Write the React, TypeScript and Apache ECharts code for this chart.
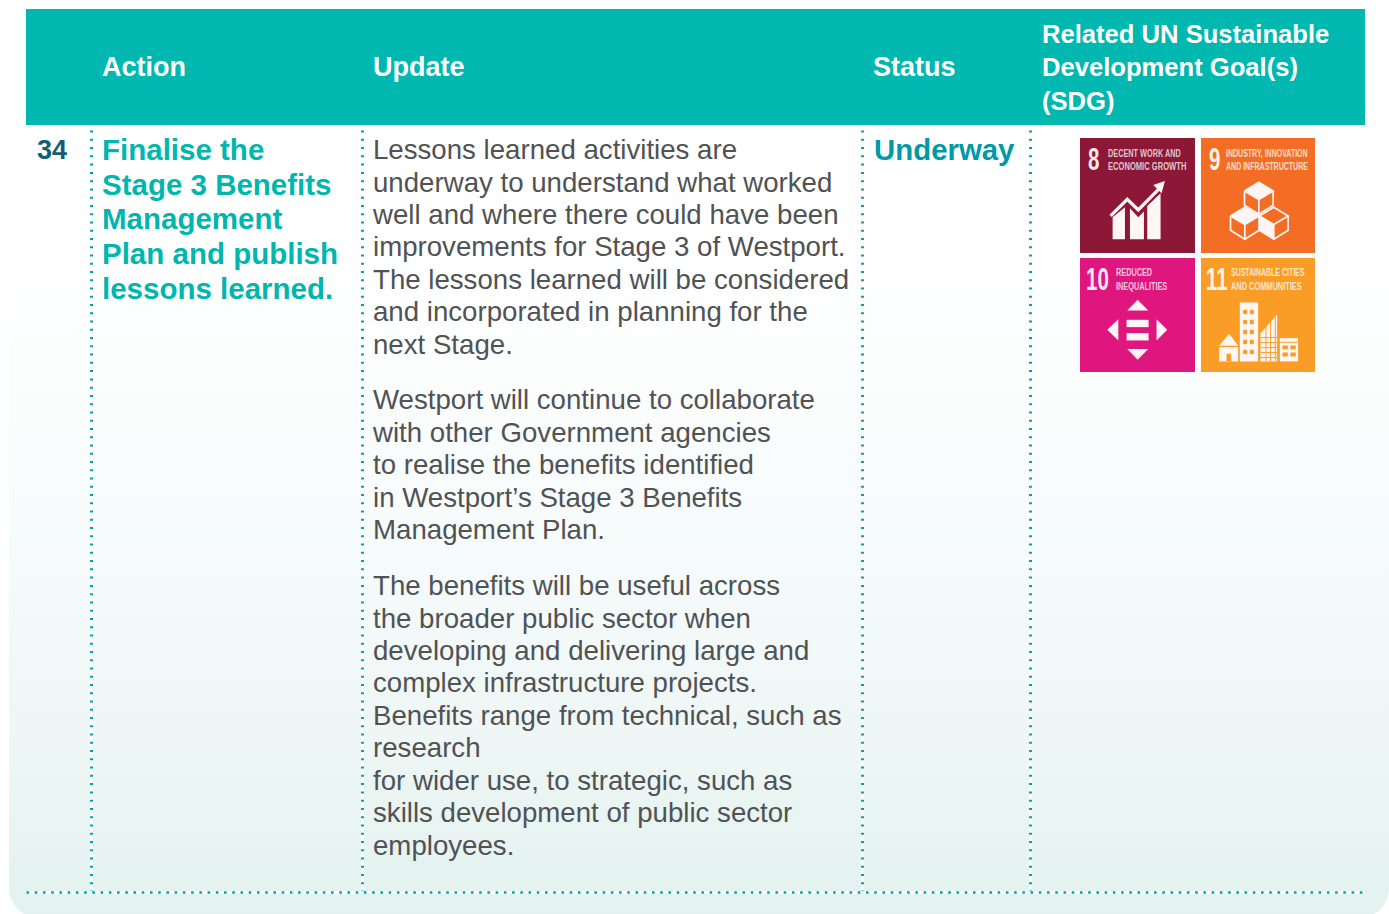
import React, { useEffect, useRef } from "react";
import * as echarts from "echarts";

const headers = ["Action", "Update", "Status"];
const sdgHeader = ["Related UN Sustainable", "Development Goal(s)", "(SDG)"];
const rowNumber = "34";
const actionLines = ["Finalise the", "Stage 3 Benefits", "Management", "Plan and publish", "lessons learned."];
const status = "Underway";
const paragraph1 = [
  "Lessons learned activities are",
  "underway to understand what worked",
  "well and where there could have been",
  "improvements for Stage 3 of Westport.",
  "The lessons learned will be considered",
  "and incorporated in planning for the",
  "next Stage.",
];
const paragraph2 = [
  "Westport will continue to collaborate",
  "with other Government agencies",
  "to realise the benefits identified",
  "in Westport’s Stage 3 Benefits",
  "Management Plan.",
];
const paragraph3 = [
  "The benefits will be useful across",
  "the broader public sector when",
  "developing and delivering large and",
  "complex infrastructure projects.",
  "Benefits range from technical, such as",
  "research",
  "for wider use, to strategic, such as",
  "skills development of public sector",
  "employees.",
];
const columnRules = [91.5, 362.5, 862.5, 1030.5];

const FONT = '"Liberation Sans", Arial, sans-serif';

function txt(text: string, x: number, y: number, size: number, fill: string, weight: any = "normal", extra: any = {}) {
  return {
    type: "text",
    x,
    y,
    silent: true,
    ...extra,
    style: { text, fontFamily: FONT, fontSize: size, fontWeight: weight, fill, textVerticalAlign: "middle", textAlign: "left" },
  };
}

function dotted(x1: number, y1: number, x2: number, y2: number, width: number, dash: number[]) {
  return [
    { type: "line", silent: true, shape: { x1, y1, x2, y2 }, style: { stroke: "rgba(255,255,255,0.85)", lineWidth: 3 } },
    { type: "line", silent: true, shape: { x1, y1, x2, y2 }, style: { stroke: "#00a2b0", lineWidth: width, lineDash: dash } },
  ];
}

function tileText(text: string, x: number, y: number, size: number, weight: any, scaleX: number, op = 0.75) {
  return {
    type: "text",
    x,
    y,
    scaleX,
    silent: true,
    style: { text, fontFamily: FONT, fontSize: size, fontWeight: weight, fill: `rgba(255,255,255,${op})`, textVerticalAlign: "middle", textAlign: "left" },
  };
}

const W = "#fdf6f4";
const rect = (x: number, y: number, width: number, height: number, fill = W) => ({ type: "rect", silent: true, shape: { x, y, width, height }, style: { fill } });
const poly = (points: number[][], fill = W) => ({ type: "polygon", silent: true, shape: { points }, style: { fill } });
const pline = (points: number[][], lineWidth = 5, stroke = W) => ({ type: "polyline", silent: true, shape: { points }, style: { stroke, lineWidth, fill: "none" } });

// Icons are drawn in a coordinate frame 3x the page's, anchored at (1070,130)
function icons() {
  const cube = (tx: number, ty: number) => [
    pline([[tx - 43, ty], [tx, ty - 26], [tx + 43, ty], [tx, ty + 26], [tx - 43, ty]]),
    pline([[tx - 43, ty], [tx - 43, ty + 43], [tx, ty + 70], [tx + 43, ty + 43], [tx + 43, ty]]),
    pline([[tx, ty + 26], [tx, ty + 70]]),
  ];
  const orange = "#f99d26";
  const towerWin: any[] = [];
  for (let r = 0; r < 5; r++) {
    for (let c = 0; c < 2; c++) towerWin.push(rect(520 + c * 20, 540 + r * 30, 12, 13, orange));
  }
  const triGrid: any[] = [];
  for (let r = 0; r < 5; r++) {
    triGrid.push(rect(572, 622 + r * 15, 50, 3, orange));
  }
  for (let c = 0; c < 3; c++) triGrid.push(rect(587 + c * 14, 560, 3, 135, orange));
  return [
    // goal 8
    poly([[128, 262], [165, 232], [165, 328], [128, 328]]),
    poly([[180, 235], [205, 262], [222, 245], [222, 328], [180, 328]]),
    poly([[232, 228], [272, 190], [272, 328], [232, 328]]),
    pline([[122, 258], [172, 208], [205, 240], [268, 176]], 10),
    poly([[285, 153], [250, 165], [275, 190]]),
    // goal 9
    poly([[525, 183], [567, 157], [610, 183], [567, 209]]),
    ...cube(567, 183),
    poly([[480, 258], [525, 232], [567, 258], [525, 284]]),
    ...cube(525, 258),
    poly([[567, 258], [612, 284], [612, 328], [567, 302]]),
    ...cube(612, 258),
    // goal 10
    poly([[203, 510], [172, 542], [235, 542]]),
    poly([[172, 658], [235, 658], [203, 690]]),
    poly([[112, 600], [145, 568], [145, 632]]),
    poly([[292, 600], [260, 568], [260, 632]]),
    rect(170, 570, 66, 22),
    rect(170, 610, 66, 22),
    // goal 11
    poly([[448, 648], [478, 612], [505, 648]]),
    rect(448, 652, 57, 43),
    rect(470, 672, 14, 23, orange),
    rect(510, 518, 55, 177),
    ...towerWin,
    poly([[572, 695], [572, 610], [622, 555], [622, 695]]),
    ...triGrid,
    rect(630, 625, 55, 70),
    rect(630, 636, 55, 3, orange),
    rect(638, 647, 16, 12, orange),
    rect(662, 647, 16, 12, orange),
    rect(638, 668, 16, 12, orange),
    rect(662, 668, 16, 12, orange),
  ];
}

export default function App() {
  const ref = useRef<HTMLDivElement>(null);
  useEffect(() => {
    document.body.style.margin = "0";
    const chart = echarts.init(ref.current!, null, { renderer: "svg" });
    const body = "#505254";
    const teal = "#00b6ae";
    const stretch = { scaleX: 1.024 };
    const els: any[] = [
      {
        type: "rect",
        silent: true,
        shape: { x: 9, y: 2, width: 1380, height: 916, r: 30 },
        style: {
          fill: new echarts.graphic.LinearGradient(0, 0, 0, 1, [
            { offset: 0, color: "#ffffff" },
            { offset: 0.27, color: "#ffffff" },
            { offset: 0.51, color: "#f9fcfc" },
            { offset: 0.653, color: "#f4fafa" },
            { offset: 0.8, color: "#eef7f5" },
            { offset: 0.948, color: "#e5f3f0" },
            { offset: 1, color: "#e3f2ef" },
          ]),
        },
      },
      rect(26, 9, 1339, 116, "#00b8b0"),
    ];
    columnRules.forEach((x) => els.push(...dotted(x, 892.5, x, 125, 3, [2, 6.26])));
    els.push(...dotted(26.5, 892.5, 1365, 892.5, 2.4, [2.6, 5.63]));

    els.push(txt(headers[0], 102, 67.4, 27, "#fff", "bold"));
    els.push(txt(headers[1], 373, 67.4, 27, "#fff", "bold"));
    els.push(txt(headers[2], 873, 67.4, 27, "#fff", "bold"));
    sdgHeader.forEach((t, i) => els.push(txt(t, 1042, 33.7 + i * 33.5, 25.6, "#fff", "bold")));
    els.push(txt(rowNumber, 37, 150, 27, "#0f5f78", "bold"));
    actionLines.forEach((t, i) => els.push(txt(t, 102, 149.5 + i * 34.7, 29.5, teal, "bold")));
    els.push(txt(status, 874, 149.5, 29.4, "#0099a8", "bold"));
    paragraph1.forEach((t, i) => els.push(txt(t, 373, 149.7 + i * 32.47, 27, body, "normal", stretch)));
    paragraph2.forEach((t, i) => els.push(txt(t, 373, 399.8 + i * 32.47, 27, body, "normal", stretch)));
    paragraph3.forEach((t, i) => els.push(txt(t, 373, 585.7 + i * 32.47, 27, body, "normal", stretch)));

    els.push(rect(1080, 138, 115, 115, "#8c1736"));
    els.push(rect(1201, 138, 114, 115, "#f36e24"));
    els.push(rect(1080, 258, 115, 114, "#e0167f"));
    els.push(rect(1201, 258, 114, 114, "#f99d26"));

    const n = 0.64;
    els.push(tileText("8", 1088, 159, 32, "bold", n, 0.92));
    els.push(tileText("DECENT WORK AND", 1108, 153, 11.5, "bold", 0.636));
    els.push(tileText("ECONOMIC GROWTH", 1108, 166, 11.5, "bold", 0.66));
    els.push(tileText("9", 1209, 159, 32, "bold", n, 0.92));
    els.push(tileText("INDUSTRY, INNOVATION", 1226, 153, 11.5, "bold", 0.61));
    els.push(tileText("AND INFRASTRUCTURE", 1226, 166, 11.5, "bold", 0.612));
    els.push(tileText("10", 1086, 279, 32, "bold", n, 0.92));
    els.push(tileText("REDUCED", 1116, 272, 11.5, "bold", 0.635));
    els.push(tileText("INEQUALITIES", 1116, 286, 11.5, "bold", 0.637));
    els.push(tileText("11", 1206, 279, 32, "bold", n, 0.92));
    els.push(tileText("SUSTAINABLE CITIES", 1231, 272, 11.5, "bold", 0.606));
    els.push(tileText("AND COMMUNITIES", 1231, 286, 11.5, "bold", 0.645));

    els.push({ type: "group", x: 1070, y: 130, scaleX: 1 / 3, scaleY: 1 / 3, silent: true, children: icons() });

    chart.setOption({ animation: false, backgroundColor: "#ffffff", graphic: { elements: els } });
    return () => chart.dispose();
  }, []);
  return <div ref={ref} style={{ position: "fixed", left: 0, top: 0, width: 1389, height: 914 }} />;
}
